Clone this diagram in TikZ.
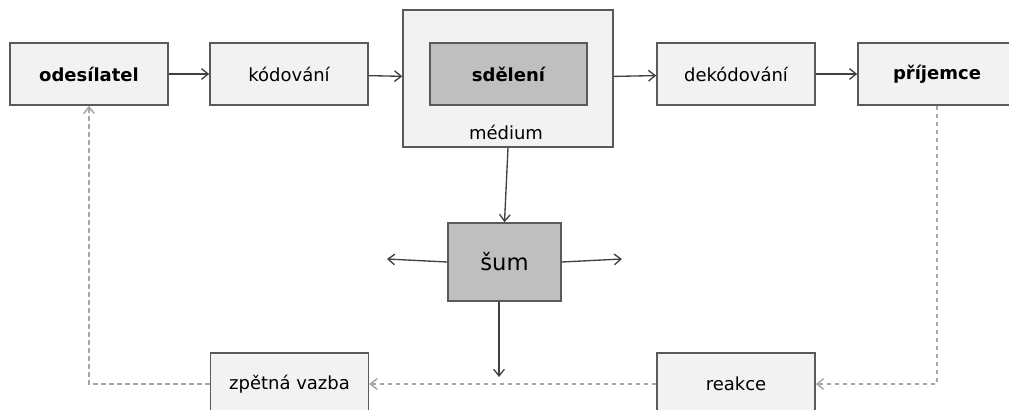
\documentclass[tikz,border=0pt]{standalone}
\usepackage{fontspec}
\setmainfont{DejaVu Sans}
\usetikzlibrary{arrows.meta}
\definecolor{boxfill}{HTML}{F2F2F2}
\definecolor{boxline}{HTML}{5A5A5A}
\definecolor{darkfill}{HTML}{BFBFBF}
\definecolor{flowline}{HTML}{404040}
\definecolor{backline}{HTML}{A6A6A6}
\begin{document}
\begin{tikzpicture}[x=0.75pt, y=-0.75pt, >={Straight Barb[length=5pt, width=8pt]},
    box/.style={draw=boxline, fill=boxfill, line width=1.2pt, inner sep=0pt,
      minimum width=118.5pt, minimum height=46.5pt, font=\fontsize{13.5}{16}\selectfont},
    flow/.style={->, draw=flowline, line width=1pt},
    back/.style={->, draw=backline, line width=1.1pt, dash pattern=on 3.5pt off 2.5pt}]
    \useasboundingbox (0,0) rectangle (1009,410);
    % top row
    \node (odes) at (89,74) [box, font=\fontsize{13.5}{16}\selectfont\bfseries] {odesílatel};
    \node (kod) at (289,74) [box] {kódování};
    \node (med) at (508,78.5) [box, minimum width=157.5pt, minimum height=102.75pt] {};
    \node (sdel) at (508.5,74) [box, fill=darkfill, minimum width=117.75pt, font=\fontsize{13.5}{16}\selectfont\bfseries] {sdělení};
    \node (medlabel) at (506,132) [font=\fontsize{13.5}{16}\selectfont] {médium};
    \node (dekod) at (736,74) [box] {dekódování};
    \node (prij) at (937,74) [box, font=\fontsize{13.5}{16}\selectfont\bfseries] {příjemce};
    % noise
    \node (sum) at (504.5,262) [box, fill=darkfill, minimum width=84.75pt, minimum height=58.5pt, font=\fontsize{17}{20}\selectfont] {šum};
    \coordinate (sumleft) at (387,259);
    \coordinate (sumright) at (622,259);
    \coordinate (sumdown) at (499,377);
    % bottom row
    \node (zpet) at (289.5,384) [box] {zpětná vazba};
    \node (reak) at (736,384) [box] {reakce};
    \draw[flow] (odes) -- (kod);
    \draw[flow] (kod) -- (med);
    \draw[flow] (med) -- (dekod);
    \draw[flow] (dekod) -- (prij);
    \draw[flow] (med.south) -- (sum.north);
    \draw[flow] (sum.west) -- (sumleft);
    \draw[flow] (sum.east) -- (sumright);
    \draw[flow] (sumdown |- sum.south) -- (sumdown);
    \draw[back] (prij.south) |- (reak.east);
    \draw[back] (reak.west) -- (zpet.east);
    \draw[back] (zpet.west) -| (odes.south);
\end{tikzpicture}
\end{document}
